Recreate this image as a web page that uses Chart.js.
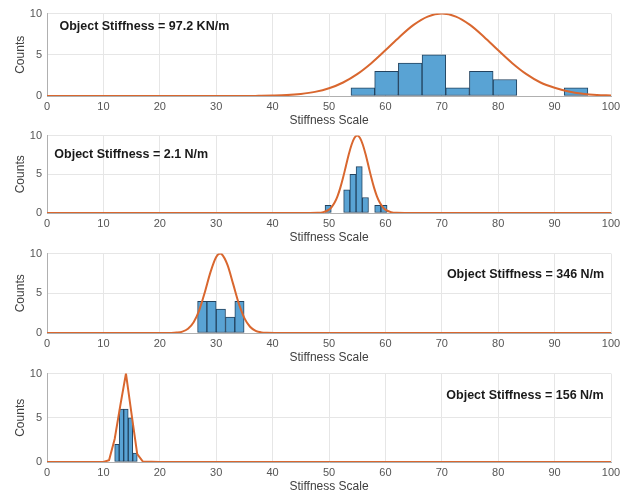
<!DOCTYPE html>
<html>
<head>
<meta charset="utf-8">
<script src="https://cdn.jsdelivr.net/npm/chart.js@4.4.0/dist/chart.umd.min.js"></script>
<style>
  body { margin: 0; background: #fff; }
  #wrap { position: relative; width: 629px; height: 494px; overflow: hidden; background: #fff; }
  #wrap canvas { position: absolute; left: 0; }
</style>
</head>
<body>
<div id="wrap">
  <canvas id="panel-1" width="629" height="126" style="top:2px"></canvas>
  <canvas id="panel-2" width="629" height="121" style="top:124px"></canvas>
  <canvas id="panel-3" width="629" height="123" style="top:242px"></canvas>
  <canvas id="panel-4" width="629" height="132" style="top:362px"></canvas>
</div>
<script>
// histogram bin edges + counts, fitted curve
const p1Edges = [53.9, 58.1, 62.3, 66.5, 70.7, 74.9, 79.1, 83.3, 87.5, 91.7, 95.9];
const p1Counts = [1, 3, 4, 5, 1, 3, 2, 0, 0, 1];
const p1FitX = [0, 10, 20, 30, 35, 37.5, 40, 42.5, 45, 47.5, 50, 52.5, 55, 57.5, 60, 62.5, 65, 67.5, 70, 72.5, 75, 77.5, 80, 82.5, 85, 87.5, 90, 92.5, 95, 97.5, 100];
const p1FitY = [0, 0, 0, 0, 0, 0.02, 0.05, 0.11, 0.25, 0.5, 0.94, 1.64, 2.65, 3.98, 5.54, 7.17, 8.63, 9.64, 10, 9.64, 8.63, 7.17, 5.54, 3.98, 2.65, 1.64, 1.0, 0.55, 0.28, 0.13, 0.06];

const p2Edges = [49.3, 50.4, 51.5, 52.6, 53.7, 54.8, 55.9, 57.0, 58.1, 59.2, 60.3];
const p2Counts = [1, 0, 0, 3, 5, 6, 2, 0, 1, 1];
const p2FitX = [0, 10, 20, 30, 40, 46, 48, 49, 50, 50.5, 51, 51.5, 52, 52.5, 53, 53.5, 54, 54.5, 55, 55.5, 56, 56.5, 57, 57.5, 58, 58.5, 59, 59.5, 60, 61, 62, 64, 70, 80, 90, 100];
const p2FitY = [0, 0, 0, 0, 0, 0, 0.02, 0.11, 0.44, 0.8, 1.35, 2.16, 3.25, 4.58, 6.07, 7.55, 8.82, 9.69, 10, 9.69, 8.82, 7.55, 6.07, 4.58, 3.25, 2.16, 1.35, 0.8, 0.44, 0.11, 0.02, 0, 0, 0, 0, 0];

const p3Edges = [26.7, 28.35, 30.0, 31.65, 33.3, 34.95];
const p3Counts = [4, 4, 3, 2, 4];
const p3FitX = [0, 10, 20, 22, 23, 24, 25, 26, 27, 28, 29, 30, 30.7, 31, 32, 33, 34, 35, 36, 37, 38, 39, 41, 50, 60, 70, 80, 90, 100];
const p3FitY = [0, 0, 0, 0.01, 0.05, 0.17, 0.53, 1.35, 2.89, 5.17, 7.7, 9.57, 10, 9.92, 8.58, 6.19, 3.73, 1.88, 0.79, 0.28, 0.08, 0.02, 0, 0, 0, 0, 0, 0, 0];

const p4Edges = [12.0, 12.8, 13.6, 14.4, 15.2, 16.0];
const p4Counts = [2, 6, 6, 5, 1];
const p4FitX = [0, 10, 11, 12, 13, 14, 15, 16, 17, 20, 30, 40, 50, 60, 70, 80, 90, 100];
const p4FitY = [0, 0, 0.2, 2.6, 6.4, 10, 5.4, 0.9, 0.05, 0, 0, 0, 0, 0, 0, 0, 0, 0];

const stiffnessLabels = [
  "Object Stiffness = 97.2 KN/m",
  "Object Stiffness = 2.1 N/m",
  "Object Stiffness = 346 N/m",
  "Object Stiffness = 156 N/m",
];

Chart.defaults.font.family = "'Liberation Sans', Arial, Helvetica, sans-serif";

const stiffnessLabel = {
  id: "stiffnessLabel",
  afterDatasetsDraw(chart, args, opts) {
    const { ctx, scales } = chart;
    ctx.save();
    ctx.font = "bold 12.5px 'Liberation Sans', Arial, sans-serif";
    ctx.fillStyle = "#1a1a1a";
    ctx.textAlign = opts.align;
    ctx.textBaseline = "middle";
    ctx.fillText(opts.text, scales.x.getPixelForValue(opts.x), scales.y.getPixelForValue(opts.y));
    ctx.restore();
  },
};

const gridColor = "#e6e6e6";
const tickColor = "#555555";

const makePanel = (id, edges, counts, fitX, fitY, label, smooth) => {
  const bins = counts.map((c, i) => ({ x: (edges[i] + edges[i + 1]) / 2, y: c }));
  const fit = fitX.map((x, i) => ({ x: x, y: fitY[i] }));
  return new Chart(document.getElementById(id), {
    type: "bar",
    data: {
      datasets: [
        {
          type: "line",
          data: fit,
          borderColor: "#d9672f",
          borderWidth: 2,
          pointRadius: 0,
          fill: false,
          tension: smooth ? 0.4 : 0,
          cubicInterpolationMode: smooth ? "monotone" : "default",
          order: 0,
        },
        {
          data: bins,
          backgroundColor: "#59a3d4",
          borderColor: "#23435f",
          borderWidth: 1,
          borderSkipped: false,
          barPercentage: 1,
          categoryPercentage: 1,
          order: 1,
        },
      ],
    },
    options: {
      responsive: false,
      animation: false,
      layout: { padding: { top: 10, right: 18, bottom: 0, left: 0 } },
      scales: {
        x: {
          type: "linear",
          min: 0,
          max: 100,
          offset: false,
          grid: { color: gridColor, drawTicks: false, offset: false },
          border: { color: "#b0b0b0" },
          ticks: { stepSize: 10, color: tickColor, font: { size: 11 }, padding: 4, maxRotation: 0 },
          title: { display: true, text: "Stiffness Scale", color: "#404040", font: { size: 12 }, padding: 0 },
          afterFit: (s) => { s.height = 32; },
        },
        y: {
          min: 0,
          max: 10,
          grid: { color: gridColor, drawTicks: false },
          border: { color: "#b0b0b0" },
          ticks: { stepSize: 5, color: tickColor, font: { size: 11 }, padding: 5 },
          title: { display: true, text: "Counts", color: "#404040", font: { size: 12 }, padding: { top: 13, bottom: 0 } },
          afterFit: (s) => { s.width = 47; },
        },
      },
      plugins: {
        legend: { display: false },
        tooltip: { enabled: false },
        stiffnessLabel: label,
      },
    },
    plugins: [stiffnessLabel],
  });
};

makePanel("panel-1", p1Edges, p1Counts, p1FitX, p1FitY, { text: stiffnessLabels[0], x: 2.2, y: 8.4, align: "left" }, true);
makePanel("panel-2", p2Edges, p2Counts, p2FitX, p2FitY, { text: stiffnessLabels[1], x: 1.3, y: 7.6, align: "left" }, true);
makePanel("panel-3", p3Edges, p3Counts, p3FitX, p3FitY, { text: stiffnessLabels[2], x: 98.8, y: 7.4, align: "right" }, true);
makePanel("panel-4", p4Edges, p4Counts, p4FitX, p4FitY, { text: stiffnessLabels[3], x: 98.7, y: 7.55, align: "right" }, false);
</script>
</body>
</html>
